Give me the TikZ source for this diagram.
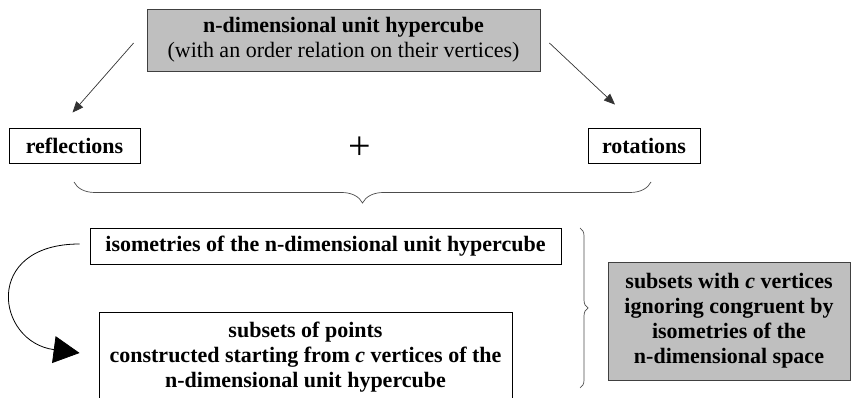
\documentclass[tikz,border=0pt]{standalone}
\usepackage{fontspec}
\setmainfont{Liberation Serif}
\usetikzlibrary{positioning}
\usetikzlibrary{arrows.meta}
\usetikzlibrary{calc,decorations.pathreplacing}

\begin{document}
\begin{tikzpicture}[x=1pt,y=1pt,
	every node/.style={font=\fontsize{22}{25}\selectfont, align=center, inner sep=0pt},
	bold/.style={font=\fontsize{22}{25}\selectfont\bfseries},
	box/.style={draw=black, line width=0.8pt, fill=white},
	graybox/.style={draw=black!75, line width=0.8pt, fill=gray!50},
	arr/.style={-{Triangle[length=11pt,width=9pt]}, draw=black!80, line width=0.7pt},
	curv/.style={-{Triangle[length=26pt,width=27pt]}, draw=black, line width=0.8pt},
	brc/.style={decorate, decoration={brace, amplitude=#1}, draw=black!70, line width=0.7pt}]
	%% frame of the picture
	\useasboundingbox (0,0) rectangle (861,398);
	\clip (0,0) rectangle (861,398);
	
	\def\bh{35} % height of the small boxes
	
	% the cube and the two kinds of maps
	\node[graybox, minimum width=393pt, minimum height=62pt] (cube) at (343.5,358)
		{\textbf{n-dimensional unit hypercube}\\(with an order relation on their vertices)};
	\node[box, bold, minimum width=131pt, minimum height=\bh pt] (refl) at (74.5,252.5) {reflections};
	\node[box, bold, minimum width=112pt, minimum height=\bh pt] (rot) at (644,252.5) {rotations};
	\node[font=\fontsize{40}{40}\selectfont] (plus) at (360,250) {+};
	
	\draw[arr] ([shift={(-13pt,-3pt)}]cube.west) -- ([shift={(-2pt,15pt)}]refl.north);
	\draw[arr] ([shift={(9pt,-3pt)}]cube.east) -- ([shift={(-29pt,23pt)}]rot.north);
	
	\draw[brc=21] (651,216) -- (74,216);
	
	% isometries and the subsets
	\node[box, bold, minimum width=471pt, minimum height=36pt] (isom) at (325.5,152)
		{isometries of the n-dimensional unit hypercube};
	\node[box, bold, minimum width=413pt, minimum height=90pt] (subs) at (305.5,41)
		{subsets of points\\constructed starting from \textit{c} vertices of the\\n-dimensional unit hypercube};
	
	\draw[curv] ([xshift=-10pt,yshift=2pt]isom.west) .. controls (-18,154) and (-4,56) .. ([xshift=-19pt,yshift=4pt]subs.west);
	
	\draw[brc=8] (580,170) -- (580,10);
	
	\node[graybox, bold, minimum width=242pt, minimum height=118pt] (classes) at (729,77)
		{subsets with \textit{c} vertices\\ignoring congruent by\\isometries of the\\n-dimensional space};
	
\end{tikzpicture}
\end{document}
